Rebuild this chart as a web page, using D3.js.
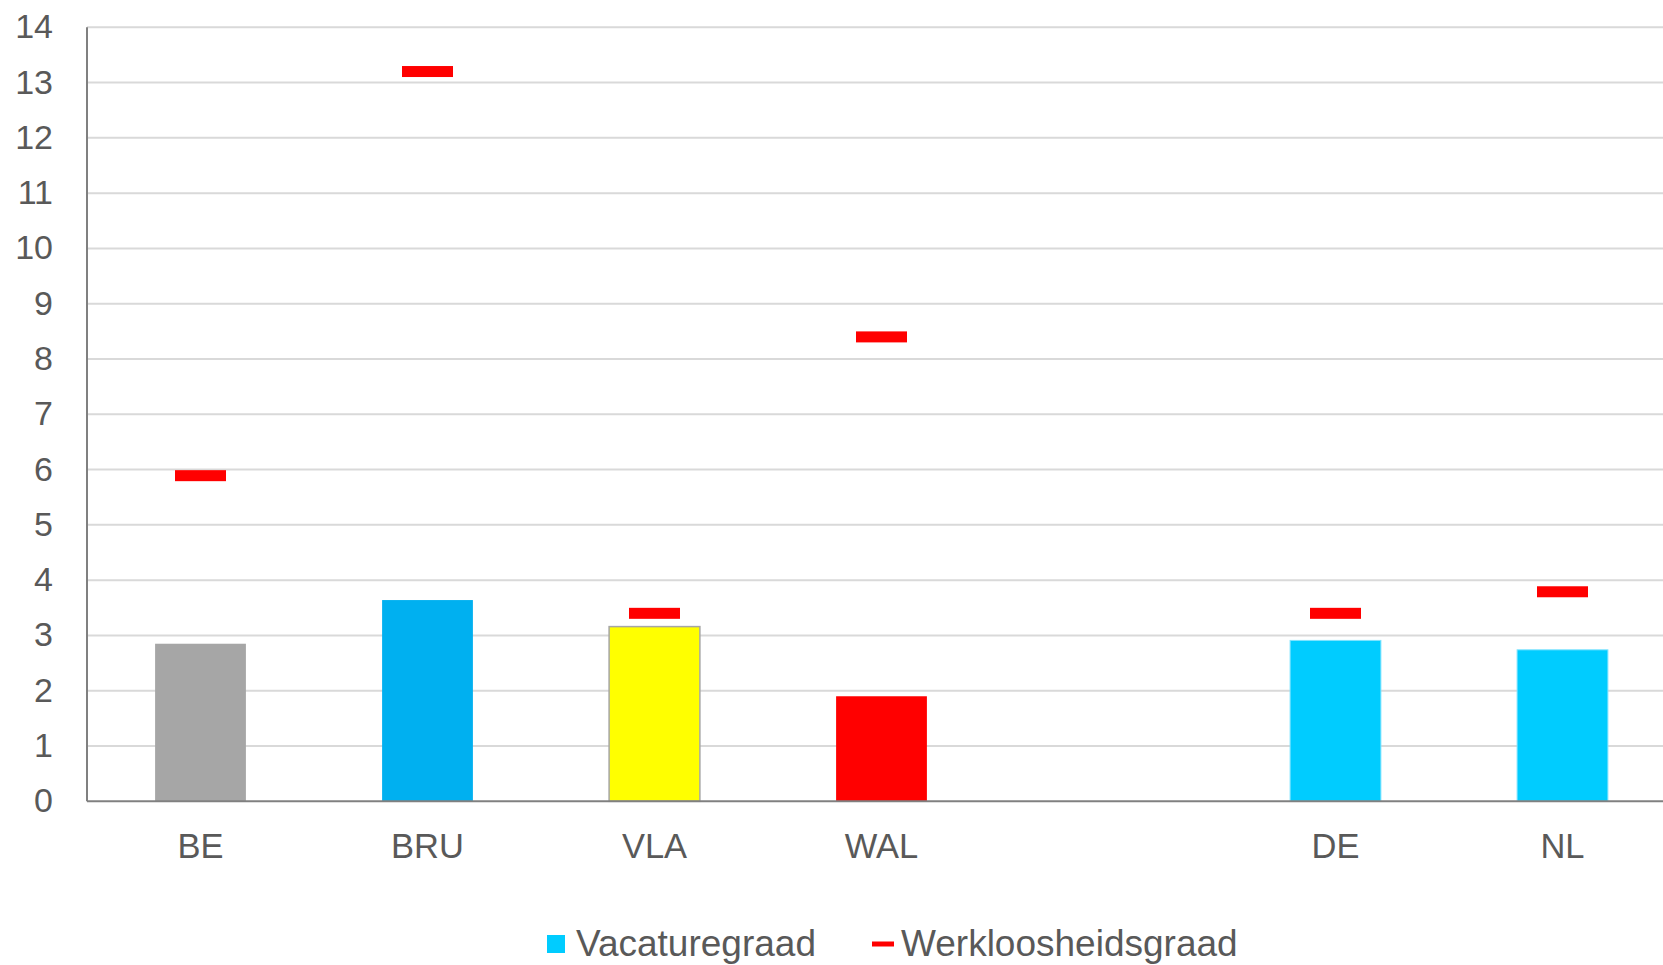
<!DOCTYPE html>
<html>
<head>
<meta charset="utf-8">
<script src="https://cdn.jsdelivr.net/npm/d3@7"></script>
<style>
  body { margin: 0; background: #fff; }
  text { font-family: "Liberation Sans", Arial, sans-serif; fill: #595959; }
</style>
</head>
<body>
<div id="chart"></div>
<script>
// regions; the empty slot keeps the gap between WAL and DE
var categories = ["BE", "BRU", "VLA", "WAL", "", "DE", "NL"];
var vacatureGraad = [2.85, 3.64, 3.16, 1.90, null, 2.91, 2.74];
var werkloosheidsGraad = [5.89, 13.2, 3.40, 8.40, null, 3.40, 3.79];
var yTicks = [0, 1, 2, 3, 4, 5, 6, 7, 8, 9, 10, 11, 12, 13, 14];
var seriesNames = ["Vacaturegraad", "Werkloosheidsgraad"];

var barFill = {BE: "#A6A6A6", BRU: "#00B0F0", VLA: "#FFFF00", WAL: "#FF0000", DE: "#00CCFF", NL: "#00CCFF"};
var barStroke = {VLA: "#A6A6A6", DE: "#7FE3FF", NL: "#7FE3FF"};

var width = 1663, height = 965;
var plotLeft = 87, plotTop = 27.3, plotBottom = 801.3;
var step = 227;

var svg = d3.select("#chart")
    .append("svg")
    .attr("width", width)
    .attr("height", height);

var x = d3.scaleBand()
    .domain(categories)
    .range([plotLeft, plotLeft + step * categories.length])
    .paddingInner(0.6)
    .paddingOuter(0.3);

var y = d3.scaleLinear()
    .domain([0, 14])
    .range([plotBottom, plotTop]);

var rows = categories.map(function(c, i) {
    return {cat: c, vac: vacatureGraad[i], werk: werkloosheidsGraad[i]};
}).filter(function(d) { return d.vac != null; });

// gridlines
svg.append("g")
    .selectAll("line")
    .data(yTicks.slice(1))
    .enter().append("line")
    .attr("x1", plotLeft)
    .attr("x2", width)
    .attr("y1", function(d) { return y(d); })
    .attr("y2", function(d) { return y(d); })
    .attr("stroke", "#D9D9D9")
    .attr("stroke-width", 2);

// y tick labels
svg.append("g")
    .selectAll("text")
    .data(yTicks)
    .enter().append("text")
    .attr("x", 53)
    .attr("y", function(d) { return y(d) - 1; })
    .attr("text-anchor", "end")
    .attr("dominant-baseline", "central")
    .style("font-size", "34px")
    .text(function(d) { return d; });

// bars
svg.append("g")
    .selectAll("rect")
    .data(rows)
    .enter().append("rect")
    .attr("x", function(d) { return x(d.cat); })
    .attr("y", function(d) { return y(d.vac); })
    .attr("width", x.bandwidth())
    .attr("height", function(d) { return y(0) - y(d.vac); })
    .attr("fill", function(d) { return barFill[d.cat]; })
    .attr("stroke", function(d) { return barStroke[d.cat] || "none"; })
    .attr("stroke-width", function(d) { return d.cat == "VLA" ? 1.5 : 1; });

// axes lines
svg.append("line")
    .attr("x1", plotLeft).attr("x2", plotLeft)
    .attr("y1", plotTop).attr("y2", plotBottom)
    .attr("stroke", "#808080").attr("stroke-width", 2);
svg.append("line")
    .attr("x1", plotLeft).attr("x2", width)
    .attr("y1", plotBottom).attr("y2", plotBottom)
    .attr("stroke", "#808080").attr("stroke-width", 2);

// unemployment markers
var markW = 51, markH = 11;
svg.append("g")
    .selectAll("rect")
    .data(rows)
    .enter().append("rect")
    .attr("x", function(d) { return x(d.cat) + x.bandwidth() / 2 - markW / 2; })
    .attr("y", function(d) { return y(d.werk) - markH / 2; })
    .attr("width", markW)
    .attr("height", markH)
    .attr("fill", "#FF0000");

// x labels
svg.append("g")
    .selectAll("text")
    .data(rows)
    .enter().append("text")
    .attr("x", function(d) { return x(d.cat) + x.bandwidth() / 2; })
    .attr("y", 857.5)
    .attr("text-anchor", "middle")
    .style("font-size", "34.5px")
    .text(function(d) { return d.cat; });

// legend
var legend = svg.append("g").attr("class", "legend");
legend.append("rect")
    .attr("x", 547).attr("y", 935)
    .attr("width", 18).attr("height", 18)
    .attr("fill", "#00CCFF");
legend.append("text")
    .attr("x", 576).attr("y", 956)
    .style("font-size", "37px")
    .text(seriesNames[0]);
legend.append("rect")
    .attr("x", 872).attr("y", 941.5)
    .attr("width", 22).attr("height", 5)
    .attr("fill", "#FF0000");
legend.append("text")
    .attr("x", 901).attr("y", 956)
    .style("font-size", "37px")
    .text(seriesNames[1]);
</script>
</body>
</html>
